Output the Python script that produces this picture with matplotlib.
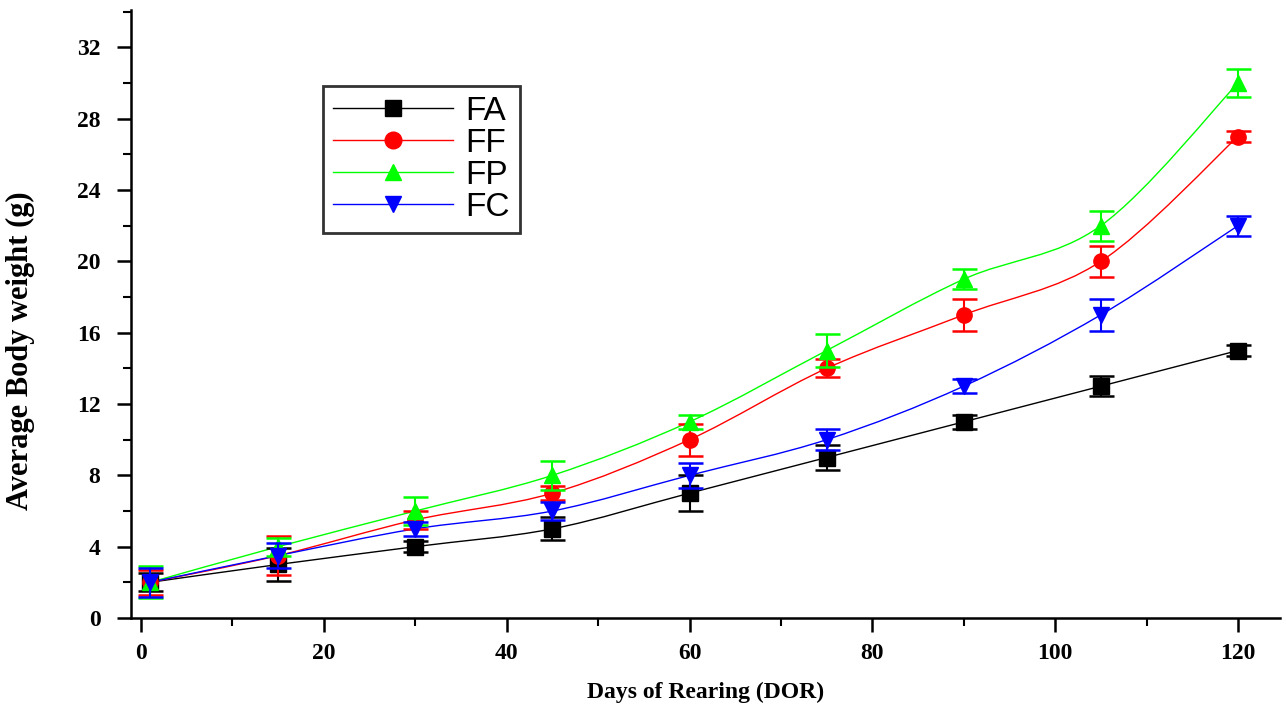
import numpy as np
import matplotlib
matplotlib.use("Agg")
import matplotlib.pyplot as plt
from matplotlib.path import Path
from matplotlib.patches import PathPatch
from matplotlib.ticker import MultipleLocator

days = [1, 15, 30, 45, 60, 75, 90, 105, 120]

fa = [2.0, 3.0, 4.0, 5.0, 7.0, 9.0, 11.0, 13.0, 15.0]
fa_err = [0.5, 0.9, 0.3, 0.65, 1.0, 0.7, 0.4, 0.55, 0.3]
ff = [2.0, 3.5, 5.5, 7.0, 10.0, 14.0, 17.0, 20.0, 27.0]
ff_err = [0.7, 1.1, 0.5, 0.4, 0.9, 0.5, 0.9, 0.85, 0.3]
fp = [2.0, 4.0, 6.0, 8.0, 11.0, 15.0, 19.0, 22.0, 30.0]
fp_err = [0.9, 0.5, 0.8, 0.8, 0.4, 0.9, 0.55, 0.85, 0.8]
fc = [2.0, 3.5, 5.0, 6.0, 8.0, 10.0, 13.0, 17.0, 22.0]
fc_err = [0.8, 0.7, 0.4, 0.5, 0.7, 0.6, 0.4, 0.9, 0.55]

series = [
    ("FA", fa, fa_err, "#000000", "s"),
    ("FF", ff, ff_err, "#ff0000", "o"),
    ("FP", fp, fp_err, "#00ff00", "^"),
    ("FC", fc, fc_err, "#0000ff", "v"),
]


def smooth_path(x, y):
    # Catmull-Rom style cubic bezier through the points
    x = np.asarray(x, float)
    y = np.asarray(y, float)
    verts = [(x[0], y[0])]
    codes = [Path.MOVETO]
    n = len(x)
    for i in range(n - 1):
        i0 = max(i - 1, 0)
        i3 = min(i + 2, n - 1)
        c1 = (x[i] + (x[i + 1] - x[i0]) / 6, y[i] + (y[i + 1] - y[i0]) / 6)
        c2 = (x[i + 1] - (x[i3] - x[i]) / 6, y[i + 1] - (y[i3] - y[i]) / 6)
        verts += [c1, c2, (x[i + 1], y[i + 1])]
        codes += [Path.CURVE4] * 3
    return Path(verts, codes)


fig = plt.figure(figsize=(12.86, 7.04), dpi=100)
ax = fig.add_axes([0.1019, 0.1222, 0.8934, 0.8636])

for name, vals, errs, color, marker in series:
    ax.add_patch(PathPatch(smooth_path(days, vals), fill=False, edgecolor=color, lw=1.0))
    ax.errorbar(days, vals, yerr=errs, fmt="none", ecolor=color, elinewidth=1.5,
                capsize=9, capthick=1.8)
    ax.plot(days, vals, linestyle="none", marker=marker, color=color, markersize=11)

# legend proxies: line - marker - line
handles = []
for name, vals, errs, color, marker in series:
    h, = ax.plot([], [], "-", color=color, lw=1.0, marker=marker, markersize=12, label=name)
    handles.append(h)
leg = ax.legend(handles=handles, loc="upper left", bbox_to_anchor=(0.1675, 0.875),
                frameon=True, fancybox=False, numpoints=1, handlelength=3.6,
                handletextpad=0.35, labelspacing=0.03, borderpad=0.3, borderaxespad=0,
                prop={"family": "Liberation Sans", "size": 24})
leg.get_frame().set_edgecolor("black")
leg.get_frame().set_linewidth(2.0)

ax.set_xlim(-1.1, 124.6)
ax.set_ylim(0, 34.1)
ax.xaxis.set_major_locator(MultipleLocator(20))
ax.xaxis.set_minor_locator(MultipleLocator(10))
ax.yaxis.set_major_locator(MultipleLocator(4))
ax.yaxis.set_minor_locator(MultipleLocator(2))

for side in ("top", "right"):
    ax.spines[side].set_visible(False)
for side in ("left", "bottom"):
    ax.spines[side].set_linewidth(1.8)

ax.tick_params(which="major", direction="out", length=10, width=1.8)
ax.tick_params(axis="x", which="major", pad=8)
ax.tick_params(axis="y", which="major", pad=12)
ax.tick_params(which="minor", direction="out", length=6, width=1.5)
for lab in ax.get_xticklabels() + ax.get_yticklabels():
    lab.set_fontfamily("Liberation Serif")
    lab.set_fontweight("bold")
    lab.set_fontsize(17)

ax.set_xlabel("Days of Rearing (DOR)", fontfamily="Liberation Serif", fontweight="bold",
              fontsize=17)
ax.xaxis.set_label_coords(0.5, -0.105)
ax.set_ylabel("Average Body weight (g)", fontfamily="Liberation Serif", fontweight="bold",
              fontsize=22)
ax.yaxis.set_label_coords(-0.084, 0.44)

fig.savefig("out.png", dpi=100)
